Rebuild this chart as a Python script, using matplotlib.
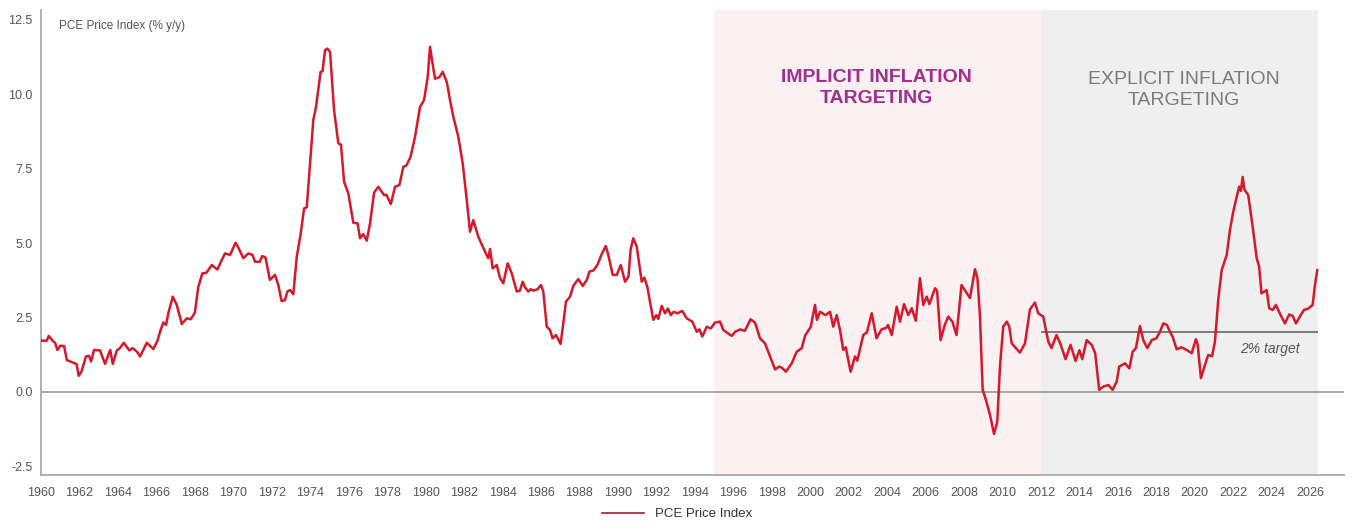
import matplotlib.pyplot as plt
from matplotlib.lines import Line2D

plt.rcParams['font.family'] = ['Liberation Sans', 'DejaVu Sans']

# PCE price index, % y/y
years = [1960.0, 1960.3, 1960.4, 1960.6, 1960.73, 1960.85, 1961.0, 1961.2, 1961.34, 1961.68,
         1961.85, 1961.96, 1962.1, 1962.34, 1962.5, 1962.6, 1962.76, 1963.07, 1963.33, 1963.6,
         1963.73, 1963.94, 1964.1, 1964.3, 1964.6, 1964.75, 1964.98, 1965.15, 1965.5, 1965.84,
         1966.05, 1966.22, 1966.36, 1966.5, 1966.62, 1966.85, 1967.06, 1967.32, 1967.58, 1967.79,
         1968.0, 1968.18, 1968.39, 1968.6, 1968.88, 1969.17, 1969.4, 1969.57, 1969.83, 1970.12,
         1970.26, 1970.52, 1970.78, 1971.0, 1971.13, 1971.37, 1971.5, 1971.67, 1971.9, 1972.17,
         1972.34, 1972.51, 1972.68, 1972.81, 1972.95, 1973.12, 1973.3, 1973.5, 1973.68, 1973.82,
         1974.16, 1974.3, 1974.54, 1974.64, 1974.77, 1974.89, 1975.03, 1975.24, 1975.46, 1975.6,
         1975.76, 1975.98, 1976.24, 1976.46, 1976.59, 1976.76, 1976.94, 1977.11, 1977.32, 1977.54,
         1977.84, 1977.96, 1978.19, 1978.41, 1978.64, 1978.84, 1979.0, 1979.22, 1979.45, 1979.71,
         1979.92, 1980.11, 1980.23, 1980.32, 1980.49, 1980.72, 1980.89, 1981.1, 1981.27, 1981.44,
         1981.7, 1981.93, 1982.14, 1982.31, 1982.48, 1982.74, 1983.09, 1983.26, 1983.35, 1983.49,
         1983.7, 1983.87, 1984.04, 1984.27, 1984.48, 1984.74, 1984.9, 1985.05, 1985.16, 1985.34,
         1985.46, 1985.6, 1985.82, 1986.0, 1986.12, 1986.3, 1986.47, 1986.6, 1986.78, 1987.02,
         1987.16, 1987.3, 1987.51, 1987.68, 1987.94, 1988.17, 1988.38, 1988.52, 1988.73, 1988.93,
         1989.16, 1989.37, 1989.5, 1989.73, 1989.94, 1990.15, 1990.37, 1990.55, 1990.66, 1990.8,
         1990.98, 1991.24, 1991.37, 1991.53, 1991.84, 1992.0, 1992.1, 1992.28, 1992.45, 1992.6,
         1992.75, 1992.9, 1993.1, 1993.35, 1993.58, 1993.87, 1994.1, 1994.24, 1994.39, 1994.62,
         1994.83, 1995.05, 1995.31, 1995.48, 1995.92, 1996.1, 1996.35, 1996.6, 1996.9, 1997.13,
         1997.39, 1997.65, 1997.91, 1998.17, 1998.4, 1998.55, 1998.74, 1999.04, 1999.3, 1999.56,
         1999.73, 2000.03, 2000.25, 2000.35, 2000.51, 2000.8, 2001.03, 2001.2, 2001.38, 2001.55,
         2001.72, 2001.85, 2002.1, 2002.33, 2002.45, 2002.76, 2002.95, 2003.2, 2003.3, 2003.45,
         2003.71, 2003.95, 2004.05, 2004.24, 2004.5, 2004.67, 2004.88, 2005.1, 2005.28, 2005.49,
         2005.71, 2005.88, 2006.06, 2006.2, 2006.49, 2006.6, 2006.78, 2007.0, 2007.18, 2007.4,
         2007.61, 2007.87, 2008.31, 2008.57, 2008.7, 2008.83, 2008.97, 2009.14, 2009.35, 2009.56,
         2009.73, 2009.87, 2010.04, 2010.22, 2010.35, 2010.48, 2010.91, 2011.17, 2011.43, 2011.69,
         2011.86, 2012.12, 2012.38, 2012.55, 2012.81, 2013.02, 2013.28, 2013.54, 2013.8, 2014.0,
         2014.15, 2014.38, 2014.64, 2014.82, 2015.03, 2015.24, 2015.51, 2015.73, 2015.94, 2016.07,
         2016.37, 2016.6, 2016.77, 2016.94, 2017.15, 2017.32, 2017.53, 2017.76, 2018.0, 2018.19,
         2018.36, 2018.55, 2018.71, 2018.85, 2019.06, 2019.3, 2019.6, 2019.84, 2020.06, 2020.15,
         2020.32, 2020.53, 2020.7, 2020.9, 2021.05, 2021.22, 2021.4, 2021.66, 2021.83, 2022.0,
         2022.18, 2022.31, 2022.4, 2022.49, 2022.58, 2022.78, 2023.01, 2023.22, 2023.35, 2023.47,
         2023.74, 2023.87, 2024.05, 2024.22, 2024.45, 2024.69, 2024.91, 2025.1, 2025.26, 2025.48,
         2025.68, 2025.9, 2026.13, 2026.25, 2026.37]
pce = [1.72, 1.72, 1.88, 1.72, 1.65, 1.41, 1.55, 1.54, 1.07, 0.98,
       0.93, 0.54, 0.68, 1.19, 1.21, 1.02, 1.41, 1.39, 0.94, 1.41,
       0.94, 1.39, 1.47, 1.65, 1.39, 1.47, 1.36, 1.19, 1.65, 1.44,
       1.71, 2.08, 2.33, 2.25, 2.64, 3.20, 2.92, 2.28, 2.47, 2.44,
       2.66, 3.53, 3.98, 4.00, 4.26, 4.11, 4.43, 4.65, 4.60, 5.01,
       4.85, 4.49, 4.65, 4.60, 4.37, 4.37, 4.56, 4.52, 3.76, 3.93,
       3.59, 3.05, 3.08, 3.37, 3.42, 3.28, 4.54, 5.30, 6.16, 6.20,
       9.13, 9.57, 10.75, 10.77, 11.48, 11.53, 11.42, 9.46, 8.35, 8.30,
       7.06, 6.67, 5.68, 5.66, 5.16, 5.30, 5.08, 5.66, 6.69, 6.89,
       6.61, 6.62, 6.31, 6.89, 6.95, 7.56, 7.60, 7.90, 8.57, 9.57,
       9.80, 10.58, 11.59, 11.20, 10.52, 10.57, 10.75, 10.41, 9.80, 9.24,
       8.57, 7.67, 6.44, 5.38, 5.77, 5.21, 4.71, 4.49, 4.80, 4.15,
       4.26, 3.82, 3.65, 4.32, 3.98, 3.37, 3.40, 3.70, 3.52, 3.37,
       3.45, 3.40, 3.45, 3.59, 3.37, 2.19, 2.08, 1.80, 1.91, 1.61,
       2.30, 3.03, 3.20, 3.56, 3.79, 3.56, 3.76, 4.04, 4.08, 4.26,
       4.63, 4.90, 4.60, 3.93, 3.93, 4.26, 3.70, 3.87, 4.77, 5.16,
       4.88, 3.70, 3.84, 3.53, 2.42, 2.58, 2.45, 2.89, 2.64, 2.80,
       2.58, 2.69, 2.64, 2.72, 2.47, 2.36, 2.02, 2.10, 1.86, 2.19,
       2.13, 2.33, 2.36, 2.08, 1.88, 2.02, 2.10, 2.05, 2.44, 2.33,
       1.80, 1.63, 1.19, 0.76, 0.85, 0.80, 0.68, 0.96, 1.35, 1.47,
       1.88, 2.19, 2.92, 2.42, 2.69, 2.58, 2.69, 2.19, 2.58, 2.08,
       1.41, 1.50, 0.68, 1.19, 1.05, 1.91, 2.00, 2.64, 2.30, 1.80,
       2.10, 2.15, 2.25, 1.91, 2.86, 2.36, 2.95, 2.58, 2.81, 2.39,
       3.82, 2.92, 3.20, 2.95, 3.48, 3.40, 1.74, 2.25, 2.53, 2.35,
       1.91, 3.59, 3.15, 4.12, 3.80, 2.53, 0.07, -0.27, -0.77, -1.41,
       -1.00, 0.85, 2.19, 2.36, 2.20, 1.63, 1.32, 1.63, 2.77, 3.00,
       2.64, 2.53, 1.69, 1.47, 1.91, 1.60, 1.10, 1.58, 1.04, 1.40,
       1.10, 1.74, 1.58, 1.30, 0.07, 0.18, 0.23, 0.07, 0.35, 0.85,
       0.96, 0.79, 1.35, 1.47, 2.21, 1.74, 1.47, 1.74, 1.80, 2.02,
       2.30, 2.25, 2.02, 1.85, 1.43, 1.50, 1.40, 1.30, 1.77, 1.60,
       0.46, 0.91, 1.24, 1.20, 1.69, 3.09, 4.09, 4.60, 5.44, 6.05,
       6.55, 6.89, 6.75, 7.22, 6.80, 6.61, 5.55, 4.49, 4.20, 3.31,
       3.42, 2.81, 2.75, 2.92, 2.60, 2.30, 2.60, 2.55, 2.30, 2.55,
       2.75, 2.80, 2.92, 3.59, 4.09]

yticks = [-2.5, 0.0, 2.5, 5.0, 7.5, 10.0, 12.5]
xticks = list(range(1960, 2027, 2))
implicit_span = (1995.0, 2012.0)
explicit_span = (2012.0, 2026.4)
target = 2.0

fig = plt.figure(figsize=(13.54, 5.27), dpi=100)
ax = fig.add_axes([0.0303, 0.0987, 0.9623, 0.882])

ax.axvspan(*implicit_span, color='#fbf0f2', lw=0, zorder=0)
ax.axvspan(*explicit_span, color='#efefef', lw=0, zorder=0)
ax.axhline(0, color='#999999', lw=1.2, zorder=1)
ax.hlines(target, explicit_span[0], explicit_span[1], color='#7a7a7a', lw=1.4, zorder=2)

ax.plot(years, pce, color='#d7182a', lw=1.8, zorder=3)

ax.set_xlim(1960, 2027.76)
ax.set_ylim(-2.79, 12.82)
ax.set_yticks(yticks)
ax.set_yticklabels([f'{v:.1f}' for v in yticks])
ax.set_xticks(xticks)
ax.tick_params(length=0, labelsize=9, labelcolor='#555555')
ax.tick_params(axis='x', pad=9)
ax.tick_params(axis='y', pad=6)

for s in ['top', 'right']:
    ax.spines[s].set_visible(False)
for s in ['left', 'bottom']:
    ax.spines[s].set_color('#aaaaaa')
    ax.spines[s].set_linewidth(1.3)

ax.text(1960.95, 12.3, 'PCE Price Index (% y/y)', fontsize=8.5, color='#555555', va='center')
ax.text(2003.45, 10.2, 'IMPLICIT INFLATION\nTARGETING', fontsize=14, fontweight='bold',
        color='#a03090', ha='center', va='center', linespacing=1.3)
ax.text(2019.45, 10.15, 'EXPLICIT INFLATION\nTARGETING', fontsize=14,
        color='#7a7a7a', ha='center', va='center', linespacing=1.3)
ax.text(2023.9, 1.45, '2% target', fontsize=10, style='italic', color='#555555',
        ha='center', va='center')

handle = Line2D([], [], color='#9b1b30', lw=1.2)
fig.legend([handle], ['PCE Price Index'], loc='center', bbox_to_anchor=(0.5, 0.024),
           frameon=False, fontsize=9.5, handlelength=3.2, labelcolor='#333333')

fig.savefig('out.png', dpi=100)
